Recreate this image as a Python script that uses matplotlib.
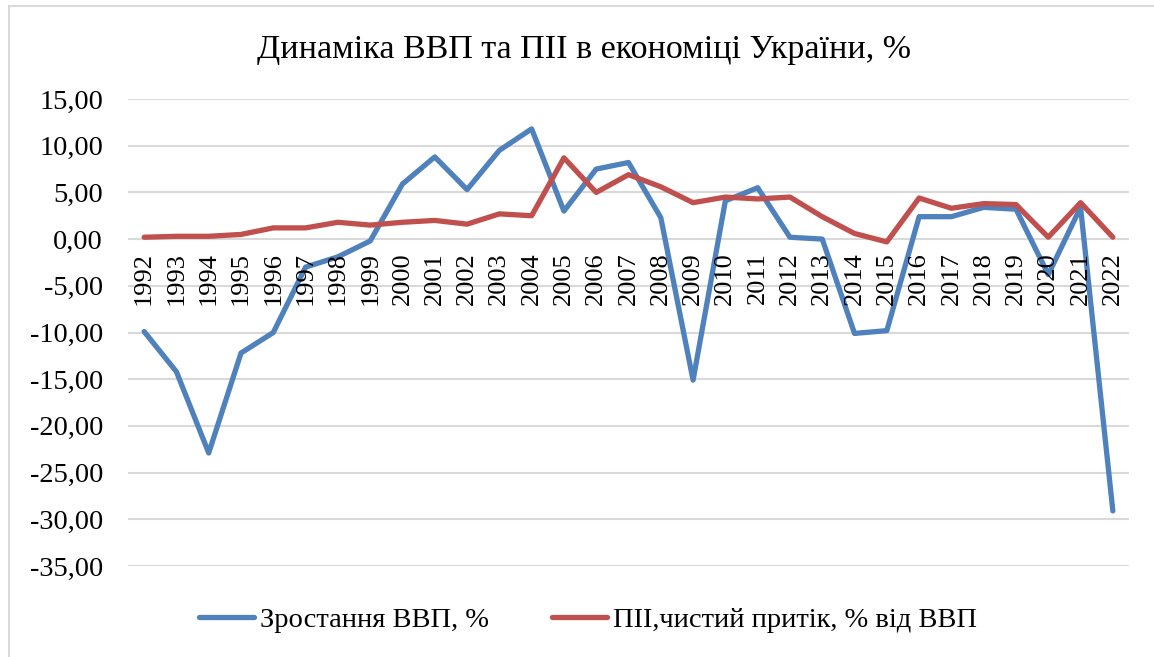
import matplotlib
matplotlib.use("Agg")
import matplotlib.pyplot as plt
from matplotlib.patches import Rectangle
from matplotlib.transforms import offset_copy

years = [str(y) for y in range(1992, 2023)]
gdp_growth = [-9.9, -14.2, -22.9, -12.2, -10.0, -3.0, -1.9, -0.2, 5.9, 8.8,
              5.3, 9.5, 11.8, 3.0, 7.5, 8.2, 2.3, -15.1, 4.1, 5.5,
              0.2, 0.0, -10.1, -9.8, 2.4, 2.4, 3.4, 3.2, -3.8, 3.4, -29.1]
fdi_inflow = [0.2, 0.3, 0.3, 0.5, 1.2, 1.2, 1.8, 1.5, 1.8, 2.0,
              1.6, 2.7, 2.5, 8.7, 5.0, 6.9, 5.6, 3.9, 4.5, 4.3,
              4.5, 2.4, 0.6, -0.3, 4.4, 3.3, 3.8, 3.7, 0.2, 3.9, 0.2]
yticks = [15, 10, 5, 0, -5, -10, -15, -20, -25, -30, -35]

title = "Динаміка ВВП та ПІІ в економіці України, %"
label_gdp = "Зростання ВВП, %"
label_fdi = "ПІІ,чистий притік, % від ВВП"

plt.rcParams['font.family'] = ['Liberation Serif', 'DejaVu Serif']

W, H = 1154, 657
fig = plt.figure(figsize=(W / 100, H / 100), dpi=100)

# chart-area frame (only top/left visible in the crop)
fig.patches.append(Rectangle((9 / W, -0.1), 1.2, (H - 6) / H + 0.1,
                             transform=fig.transFigure, fill=False,
                             edgecolor='#D9D9D9', linewidth=1.5))

ax = fig.add_axes([128 / W, (H - 566) / H, (1129 - 128) / W, (566 - 99) / H])
x = list(range(len(years)))

ax.set_xlim(-0.5, len(years) - 0.5)
ax.set_ylim(-35, 15)
ax.set_yticks(yticks)
ax.set_yticklabels([f"{v:.2f}".replace('.', ',') for v in yticks], fontsize=20.5)
ax.tick_params(axis='y', length=0, pad=18)
ax.set_xticks([])
for s in ax.spines.values():
    s.set_visible(False)
ax.grid(axis='y', color='#D9D9D9', linewidth=1.5)
ax.set_axisbelow(True)

l1, = ax.plot(x, gdp_growth, color='#4F81BD', linewidth=3.8, solid_joinstyle='round',
              solid_capstyle='round', label=label_gdp, zorder=3)
l2, = ax.plot(x, fdi_inflow, color='#C0504D', linewidth=3.8, solid_joinstyle='round',
              solid_capstyle='round', label=label_fdi, zorder=3)

tr = offset_copy(ax.transData, fig=fig, x=0, y=-13, units='dots')
for i, lab in enumerate(years):
    ax.text(i, 0, lab, rotation=90, ha='center', va='top', fontsize=19,
            transform=tr, zorder=4)

fig.text(584 / W, (H - 50) / H, title, ha='center', va='center', fontsize=24.5)

fig.legend(handles=[l1, l2], loc='center', bbox_to_anchor=(588 / W, (H - 620) / H),
           ncol=2, frameon=False, fontsize=20.5, handlelength=1.95,
           handletextpad=0.2, columnspacing=2.2)

fig.savefig("out.png", dpi=100)
